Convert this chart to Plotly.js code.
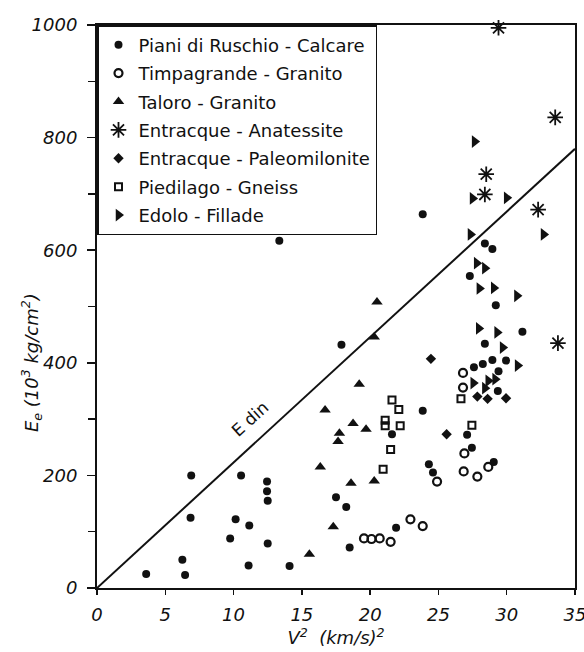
<!DOCTYPE html>
<html>
<head>
<meta charset="utf-8">
<script src="https://cdn.plot.ly/plotly-3.0.1.min.js"></script>
<style>html,body{margin:0;padding:0;background:#fff;}#chart{width:584px;height:652px;}</style>
</head>
<body>
<div id="chart"></div>
<script>
// V^2 (km/s)^2 and Ee (10^3 kg/cm^2)
const seriesNames = ["Piani di Ruschio - Calcare","Timpagrande - Granito","Taloro - Granito","Entracque - Anatessite","Entracque - Paleomilonite","Piedilago - Gneiss","Edolo - Fillade"];

const pianiX = [3.6,6.25,6.45,6.9,6.85,10.55,10.15,9.75,11.15,11.1,12.45,12.45,12.5,12.5,14.1,13.35,17.9,17.5,18.25,18.5,21.9,21.6,23.85,24.3,24.6,23.85,27.1,27.45,29.05,28.4,28.95,27.3,29.2,31.15,28.4,27.6,28.25,28.95,29.95,29.4,29.35];
const pianiY = [25,50,23,200,125,200,122,88,111,40,189,172,155,79,39,617,432,161,144,72,107,273,315,220,205,664,272,249,224,612,602,554,502,455,434,392,398,405,404,385,350];

const timpX = [19.55,20.1,20.7,21.5,22.95,23.85,24.9,26.85,27.85,28.65,26.9,26.8,26.8];
const timpY = [88,87,88,82,122,110,189,207,198,215,239,382,356];

const taloroX = [15.55,17.3,18.6,20.3,16.35,17.65,17.75,18.75,19.7,16.7,19.2,20.3,20.5];
const taloroY = [60,109,186,190,215,260,275,292,282,316,362,446,508];

const anatX = [29.4,33.55,28.5,28.4,32.3,33.75];
const anatY = [995,836,735,699,672,435];

const paleoX = [24.45,25.6,27.85,28.6,29.95];
const paleoY = [407,273,340,336,337];

const piediX = [21.6,22.1,21.1,21.1,22.2,21.5,20.95,26.65,27.45];
const piediY = [334,317,298,288,288,246,211,336,289];

const edoloX = [27.65,27.5,30,27.35,32.7,27.8,28.4,28,29.05,30.75,27.95,29.3,29.7,30.8,27.55,28.65,29.15,28.4];
const edoloY = [793,692,693,628,628,577,568,532,533,519,461,454,427,395,364,368,371,355];

const edinX = [0,35];
const edinY = [0,780];

const xTicks = [0,5,10,15,20,25,30,35];
const yTicks = [0,200,400,600,800,1000];

const black = "#111";
function pts(name, x, y, marker, g){
  return {type:"scatter", mode:"markers", name:name, x:x, y:y, marker:marker, legendgroup:g, cliponaxis:false};
}
const traces = [
  pts(seriesNames[0], pianiX, pianiY, {symbol:"circle", size:8, color:black}, "a"),
  pts(seriesNames[1], timpX, timpY, {symbol:"circle-open", size:8, color:black, line:{width:2.2,color:black}}, "b"),
  pts(seriesNames[2], taloroX, taloroY, {symbol:"triangle-up", size:10, color:black}, "c"),
  pts(seriesNames[3], anatX, anatY, {symbol:"asterisk-open", size:13, color:black, line:{width:1.8,color:black}}, "d"),
  pts(seriesNames[4], paleoX, paleoY, {symbol:"diamond", size:8, color:black}, "e"),
  pts(seriesNames[5], piediX, piediY, {symbol:"square-open", size:7, color:black, line:{width:2,color:black}}, "f"),
  pts(seriesNames[6], edoloX, edoloY, {symbol:"triangle-right", size:11, color:black}, "g"),
  {type:"scatter", mode:"lines", x:edinX, y:edinY, line:{color:black, width:2}, showlegend:false, hoverinfo:"skip"}
];

const tickFont = {family:"DejaVu Sans, sans-serif", size:18, color:black, style:"italic"};
const titleFont = {family:"DejaVu Sans, sans-serif", size:18, color:black, style:"italic"};
const layout = {
  width:584, height:652,
  margin:{l:97, r:9, t:25, b:64},
  paper_bgcolor:"#fff", plot_bgcolor:"#fff",
  showlegend:true,
  legend:{x:0, y:1, xanchor:"left", yanchor:"top", bgcolor:"#fff", bordercolor:black, borderwidth:1.5,
          font:{family:"DejaVu Sans, sans-serif", size:18, color:black}, tracegroupgap:2, traceorder:"grouped", itemwidth:30},
  xaxis:{range:[0,35], tickvals:xTicks, ticktext:xTicks.map(String), ticks:"outside", ticklen:5, tickwidth:1.5, tickcolor:black,
         showline:true, linewidth:2, linecolor:black, mirror:true, showgrid:false, zeroline:false, tickfont:tickFont,
         ticklabelstandoff:4, ticklabeloverflow:"allow",
         title:{text:"V<sup>2</sup>  (km/s)<sup>2</sup>", font:titleFont, standoff:4}},
  yaxis:{range:[0,1000], tickvals:yTicks, ticktext:yTicks.map(String), ticks:"outside", ticklen:8, tickwidth:1.5, tickcolor:black,
         minor:{dtick:100, ticks:"outside", ticklen:7, tickwidth:1.5, tickcolor:black, showgrid:false},
         showline:true, linewidth:2, linecolor:black, mirror:true, showgrid:false, zeroline:false, tickfont:tickFont,
         ticklabelstandoff:6, ticklabeloverflow:"allow"},
  annotations:[
    {x:11.2, y:300, xref:"x", yref:"y", text:"E din", showarrow:false, textangle:-42,
     font:{family:"DejaVu Sans, sans-serif", size:17, color:black}},
    {x:-0.1375, y:0.40, xref:"paper", yref:"paper", xanchor:"center", yanchor:"middle", showarrow:false, textangle:-90,
     text:"E<sub>e</sub> (10<sup>3</sup> kg/cm<sup>2</sup>)", font:titleFont}
  ]
};
Plotly.newPlot("chart", traces, layout, {displayModeBar:false, staticPlot:true});
</script>
</body>
</html>
